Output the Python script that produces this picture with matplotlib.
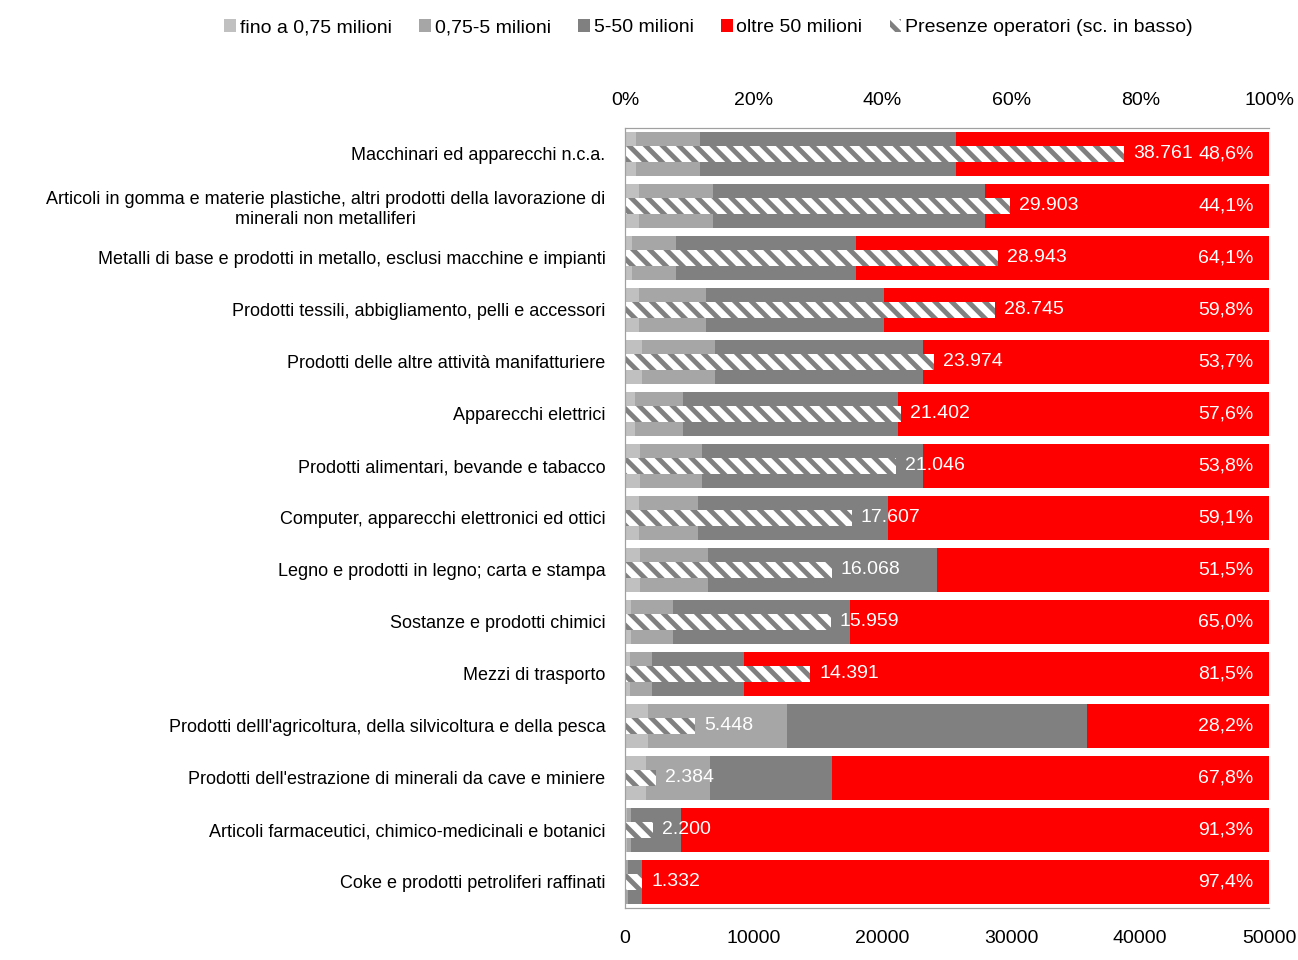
import matplotlib
matplotlib.use("Agg")
import matplotlib.pyplot as plt
from matplotlib.patches import Patch

plt.rcParams['font.family'] = ['Liberation Sans', 'DejaVu Sans']
plt.rcParams['hatch.linewidth'] = 3.5

categories = [
    "Macchinari ed apparecchi n.c.a.",
    "Articoli in gomma e materie plastiche, altri prodotti della lavorazione di\nminerali non metalliferi",
    "Metalli di base e prodotti in metallo, esclusi macchine e impianti",
    "Prodotti tessili, abbigliamento, pelli e accessori",
    "Prodotti delle altre attività manifatturiere",
    "Apparecchi elettrici",
    "Prodotti alimentari, bevande e tabacco",
    "Computer, apparecchi elettronici ed ottici",
    "Legno e prodotti in legno; carta e stampa",
    "Sostanze e prodotti chimici",
    "Mezzi di trasporto",
    "Prodotti delll'agricoltura, della silvicoltura e della pesca",
    "Prodotti dell'estrazione di minerali da cave e miniere",
    "Articoli farmaceutici, chimico-medicinali e botanici",
    "Coke e prodotti petroliferi raffinati",
]

# quote percentuali per classe di fatturato
fino_075 = [1.7, 2.2, 1.1, 2.2, 2.7, 1.5, 2.4, 2.2, 2.4, 1.0, 0.7, 3.6, 3.2, 0.3, 0.2]
da_075_5 = [9.9, 11.5, 6.8, 10.3, 11.3, 7.5, 9.5, 9.2, 10.5, 6.4, 3.5, 21.5, 10.0, 0.7, 0.3]
da_5_50 = [39.8, 42.2, 28.0, 27.7, 32.3, 33.4, 34.3, 29.5, 35.6, 27.6, 14.3, 46.7, 19.0, 7.7, 2.1]
oltre_50 = [48.6, 44.1, 64.1, 59.8, 53.7, 57.6, 53.8, 59.1, 51.5, 65.0, 81.5, 28.2, 67.8, 91.3, 97.4]

# presenze operatori
operatori = [38761, 29903, 28943, 28745, 23974, 21402, 21046, 17607, 16068, 15959,
             14391, 5448, 2384, 2200, 1332]

series_names = ["fino a 0,75 milioni", "0,75-5 milioni", "5-50 milioni", "oltre 50 milioni"]
colors = ["#c0c0c0", "#a6a6a6", "#808080", "#ff0000"]

fig = plt.figure(figsize=(12.98, 9.6), dpi=100)
ax = fig.add_axes([625 / 1298, 1 - 908 / 960, 644 / 1298, 780 / 960])

y = list(range(len(categories)))
left = [0.0] * len(categories)
for vals, col in zip([fino_075, da_075_5, da_5_50, oltre_50], colors):
    ax.barh(y, vals, left=left, height=0.85, color=col, linewidth=0)
    left = [l + v for l, v in zip(left, vals)]

ax.set_xlim(0, 100)
ax.set_ylim(14.5, -0.5)
ax.set_yticks(y)
ax.set_yticklabels(categories, fontsize=13, multialignment='center')

for i, p in enumerate(oltre_50):
    ax.text(97.6, i, f"{p:.1f}%".replace(".", ","), color="white", fontsize=14,
            ha="right", va="center")

ax2 = ax.twiny()
ax2.barh(y, operatori, height=0.31, facecolor="white", edgecolor="#808080",
         hatch="\\\\", linewidth=0)
ax2.set_xlim(0, 50000)
ax2.set_ylim(14.5, -0.5)
ax2.xaxis.tick_bottom()
ax2.set_xticks([0, 10000, 20000, 30000, 40000, 50000])
ax2.set_xticklabels(["0", "10000", "20000", "30000", "40000", "50000"], fontsize=14)
ax2.tick_params(axis='x', length=0, pad=16)

# percentuali in alto
ax.xaxis.tick_top()
ax.set_xticks([0, 20, 40, 60, 80, 100])
ax.set_xticklabels([f"{t}%" for t in [0, 20, 40, 60, 80, 100]], fontsize=14)
ax.tick_params(axis='x', length=0, pad=14)
ax.tick_params(axis='y', length=0, pad=14)

for i, v in enumerate(operatori):
    lab = f"{v:,}".replace(",", ".")
    ax2.text(v + 700, i, lab, color="white", fontsize=14, ha="left", va="center")

for a in (ax, ax2):
    for s in ["left", "top", "bottom"]:
        a.spines[s].set_color("#a0a0a0")
    a.spines["right"].set_visible(False)

handles = [Patch(facecolor=c, edgecolor="none") for c in colors]
handles.append(Patch(facecolor="white", edgecolor="#808080", hatch="\\\\", linewidth=0))
fig.legend(handles, series_names + ["Presenze operatori (sc. in basso)"],
           loc="center", bbox_to_anchor=(0.546, 0.971), ncol=5, frameon=False,
           fontsize=14, handlelength=0.6, handleheight=0.6, handletextpad=0.2,
           columnspacing=1.4)

fig.savefig("out.png", dpi=100)
